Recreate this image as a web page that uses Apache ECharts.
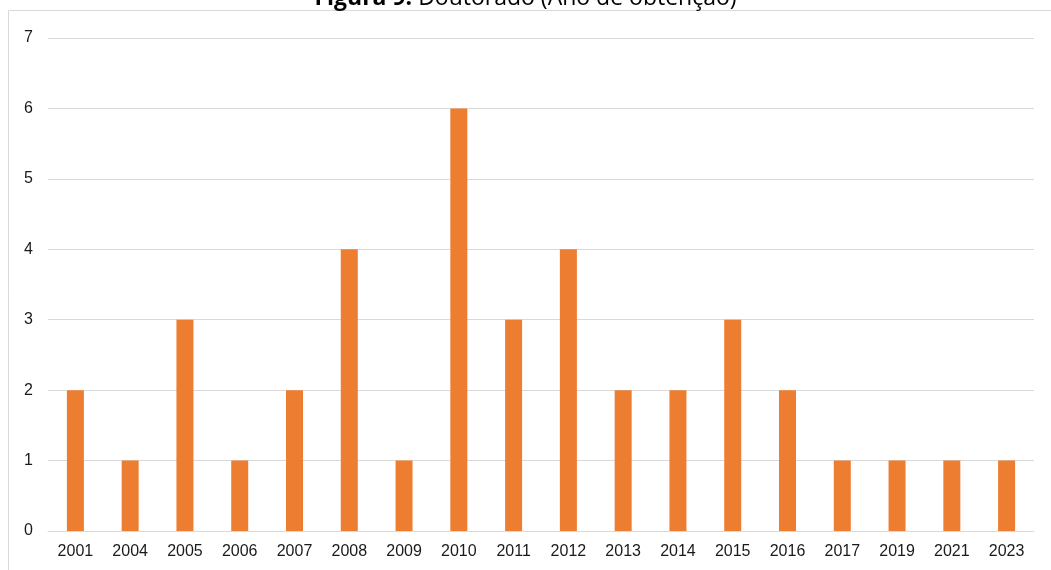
<!DOCTYPE html>
<html>
<head>
<meta charset="utf-8">
<script src="https://cdn.jsdelivr.net/npm/echarts@6/dist/echarts.min.js"></script>
<style>
  html, body { margin: 0; padding: 0; background: #fff; }
  #chart { width: 1051px; height: 570px; }
</style>
</head>
<body>
<div id="chart"></div>
<script>
// Year of doctorate completion and count per year
const years = ['2001', '2004', '2005', '2006', '2007', '2008', '2009', '2010', '2011',
               '2012', '2013', '2014', '2015', '2016', '2017', '2019', '2021', '2023'];
const counts = [2, 1, 3, 1, 2, 4, 1, 6, 3, 4, 2, 2, 3, 2, 1, 1, 1, 1];
const yTicks = [0, 1, 2, 3, 4, 5, 6, 7];

const chart = echarts.init(document.getElementById('chart'));
chart.setOption({
  animation: false,
  backgroundColor: '#fff',
  graphic: [
    {
      type: 'rect',
      shape: { x: 8.5, y: 10.5, width: 1050, height: 580 },
      style: { fill: 'none', stroke: '#d9d9d9', lineWidth: 1 },
      z: 0
    },
    {
      type: 'text',
      left: 'center',
      top: -13,
      style: {
        text: '{b|Figura 9:} Doutorado (Ano de obtenção)',
        font: '23px "Open Sans"',
        fill: '#000',
        rich: {
          b: { fontWeight: 'bold', fontSize: 23, fontFamily: 'Open Sans', fill: '#000' }
        }
      },
      z: 10
    }
  ],
  grid: { left: 48, right: 17, top: 38, bottom: 39 },
  xAxis: {
    type: 'category',
    data: years,
    axisLine: { lineStyle: { color: '#d9d9d9' } },
    axisTick: { show: false },
    axisLabel: {
      color: '#1a1a1a',
      fontSize: 16,
      fontFamily: 'Liberation Sans',
      margin: 13
    }
  },
  yAxis: {
    type: 'value',
    min: yTicks[0],
    max: yTicks[yTicks.length - 1],
    interval: 1,
    axisLine: { show: false },
    axisTick: { show: false },
    splitLine: { lineStyle: { color: '#d9d9d9', width: 1 } },
    axisLabel: {
      color: '#1a1a1a',
      fontSize: 16,
      fontFamily: 'Liberation Sans',
      margin: 15
    }
  },
  series: [{
    type: 'bar',
    data: counts,
    barWidth: 17,
    itemStyle: { color: '#ED7D31' }
  }]
});
</script>
</body>
</html>
